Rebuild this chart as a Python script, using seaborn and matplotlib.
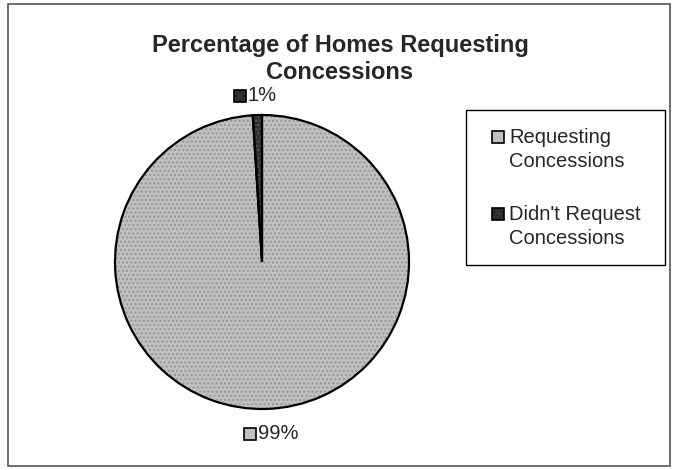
import matplotlib
matplotlib.use("Agg")
import matplotlib.pyplot as plt
import seaborn as sns
import numpy as np
from matplotlib.patches import Rectangle

sns.set_theme(style="white")
plt.rcParams['font.family'] = ['Liberation Sans', 'DejaVu Sans']

title = "Percentage of Homes Requesting\nConcessions"
categories = ["Requesting\nConcessions", "Didn't Request\nConcessions"]
values = [99, 1]
colors = ["#c0c0c0", "#2e2e2e"]
hatch_colors = ["#979797", "#5a5a5a"]

W, H = 673, 470
fig = plt.figure(figsize=(W/100, H/100), dpi=100)
fig.patch.set_facecolor("white")

def fx(px):
    return px / W

def fy(py):
    return 1 - py / H

# outer border
fig.add_artist(Rectangle((fx(8), fy(466)), 662/W, 462/H, transform=fig.transFigure,
                         fill=False, edgecolor="#555555", linewidth=1.2))

cx, cy, r = 262, 262, 147
ax = fig.add_axes([(cx - r)/W, (H - cy - r)/H, 2*r/W, 2*r/H])
ax.set_aspect("equal")

# textured fill
wedges, _ = ax.pie(values, colors=colors, startangle=90, counterclock=False,
                   wedgeprops=dict(linewidth=0))
for w, hc in zip(wedges, hatch_colors):
    w.set_hatch("....")
    w.set_edgecolor(hc)
# outline
ax.pie(values, colors=["none"]*len(values), startangle=90, counterclock=False,
       wedgeprops=dict(linewidth=1.6, edgecolor="black", fill=False))
ax.set_xlim(-1.0, 1.0)
ax.set_ylim(-1.0, 1.0)
ax.axis("off")

# data labels with square keys
total = sum(values)
start = 90.0
for v, c in zip(values, colors):
    span = 360.0 * v / total
    mid = np.deg2rad(start - span / 2)
    start -= span
    lx, ly = 1.14 * np.cos(mid), 1.15 * np.sin(mid) - 0.02
    pct = f"{round(100 * v / total)}%"
    ax.text(lx - 0.06, ly, pct, ha="left", va="center", fontsize=14.5, clip_on=False)
    ax.plot([lx - 0.115], [ly], marker="s", markersize=8.5, markerfacecolor=c,
            markeredgecolor="black", markeredgewidth=1.2, clip_on=False, linestyle="none")

fig.text(fx(340), fy(59), title, ha="center", va="center",
         fontsize=17, fontweight="bold", linespacing=1.2)

# legend (drawn as frame + keys + text)
fig.add_artist(Rectangle((fx(466), fy(265)), 199/W, 155/H, transform=fig.transFigure,
                         fill=True, facecolor="white", edgecolor="black", linewidth=1.0))
leg_top = [137, 214]
for lab, c, hc, ty in zip(categories, colors, hatch_colors, leg_top):
    fig.add_artist(Rectangle((fx(492), fy(ty + 6)), 12/W, 12/H, transform=fig.transFigure,
                             facecolor=c, edgecolor="black", linewidth=1.2))
    fig.text(fx(509), fy(ty - 9), lab, ha="left", va="top", fontsize=14.5,
             linespacing=1.32)

fig.savefig("out.png", dpi=100)
